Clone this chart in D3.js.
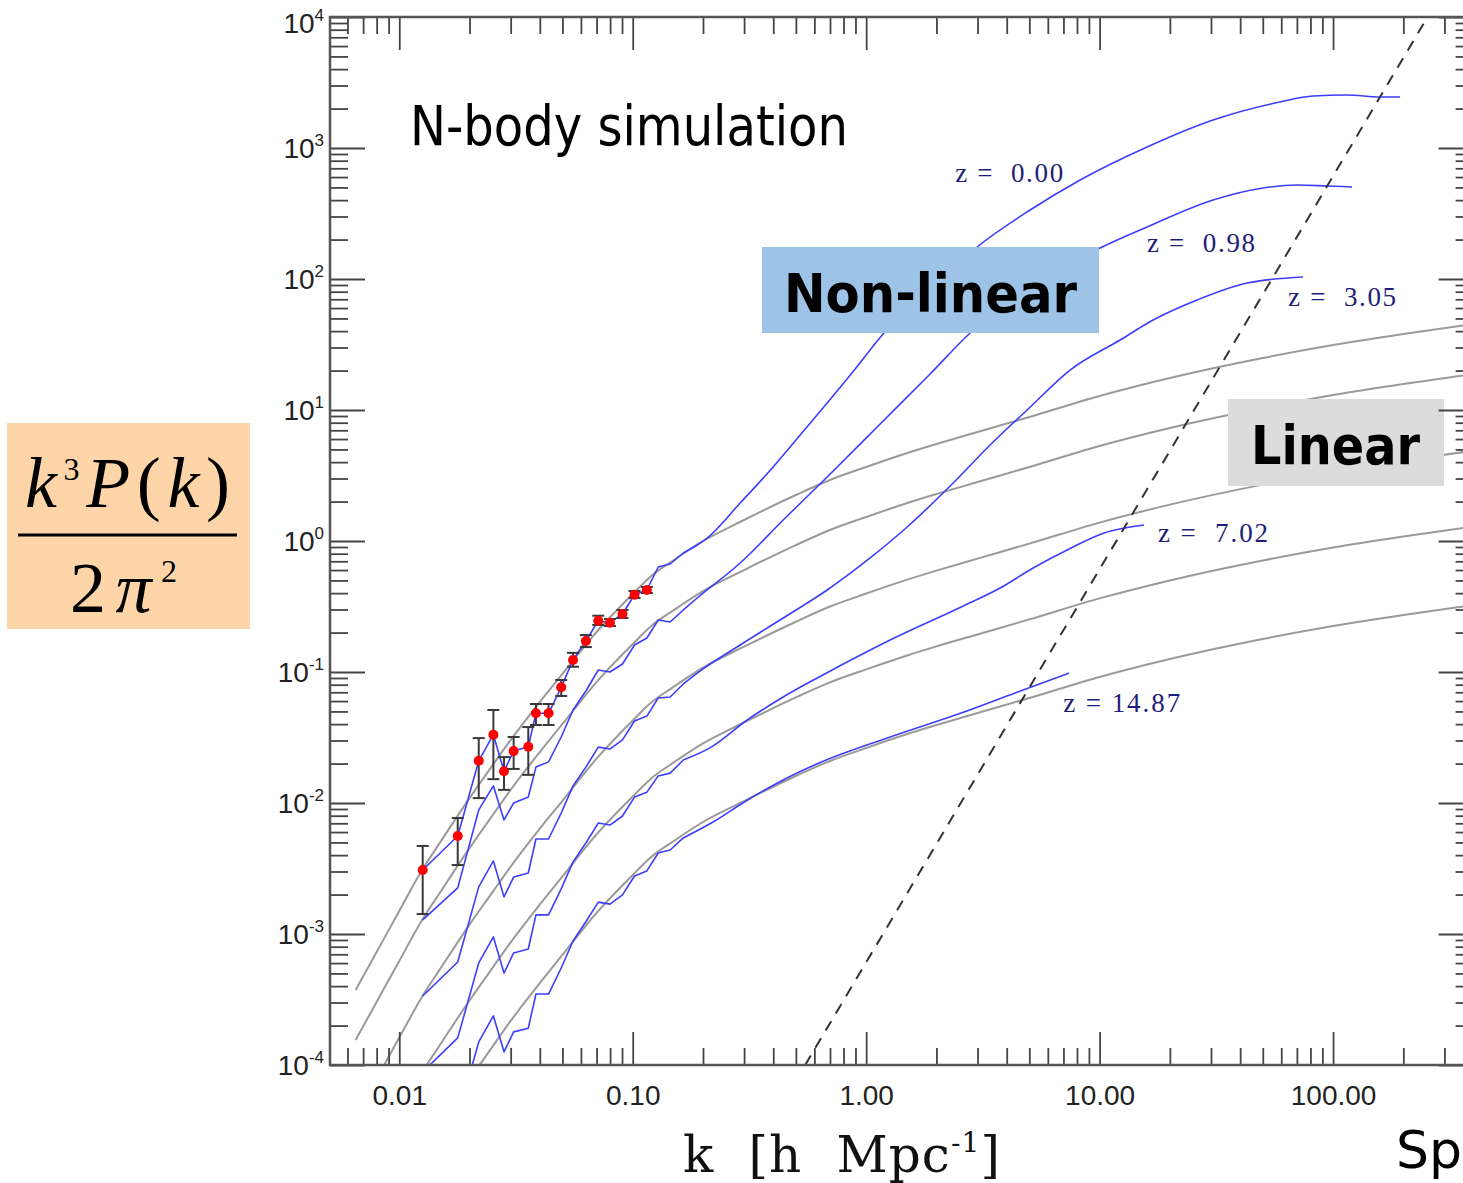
<!DOCTYPE html>
<html>
<head>
<meta charset="utf-8">
<script src="https://cdn.jsdelivr.net/npm/d3@7"></script>
<style>
  body { margin: 0; background: #ffffff; }
  svg text { white-space: pre; }
</style>
</head>
<body>
<div id="vis"></div>
<script>

// ---- espectro lineal (curvas grises), mismo k para las 5 curvas
const linK = [0.0065, 0.008, 0.01, 0.0126, 0.015, 0.02, 0.025, 0.03, 0.04, 0.05, 0.07, 0.1, 0.12, 0.15, 0.2, 0.3, 0.5, 0.7, 1, 1.5, 2, 3, 5, 10, 20, 50, 100, 200, 400];
const linZ000 = [3.74e-4, 7.29e-4, 1.50e-3, 3.13e-3, 5.04e-3, 1.09e-2, 1.92e-2, 3.03e-2, 5.90e-2, 9.66e-2, 0.202, 0.394, 0.541, 0.716, 1.00, 1.446, 2.244, 2.924, 3.673, 4.695, 5.500, 6.793, 8.844, 12.80, 17.55, 24.94, 31.34, 38.05, 45.33];
const linZ098 = [1.55e-4, 3.03e-4, 6.23e-4, 1.30e-3, 2.09e-3, 4.52e-3, 7.97e-3, 1.26e-2, 2.45e-2, 4.01e-2, 8.38e-2, 0.1635, 0.2245, 0.2971, 0.415, 0.600, 0.931, 1.213, 1.524, 1.948, 2.283, 2.819, 3.670, 5.312, 7.283, 10.35, 13.01, 15.79, 18.81];
const linZ305 = [4.04e-5, 7.87e-5, 1.62e-4, 3.38e-4, 5.44e-4, 1.18e-3, 2.07e-3, 3.27e-3, 6.37e-3, 1.04e-2, 2.18e-2, 4.26e-2, 5.84e-2, 7.73e-2, 0.108, 0.156, 0.242, 0.316, 0.397, 0.507, 0.594, 0.734, 0.955, 1.382, 1.895, 2.694, 3.385, 4.109, 4.896];
const linZ702 = [1.07e-5, 2.08e-5, 4.28e-5, 8.92e-5, 1.44e-4, 3.11e-4, 5.47e-4, 8.64e-4, 1.68e-3, 2.75e-3, 5.76e-3, 1.12e-2, 1.54e-2, 2.04e-2, 2.85e-2, 4.12e-2, 6.40e-2, 8.33e-2, 0.1047, 0.1338, 0.1568, 0.1936, 0.2521, 0.3648, 0.5002, 0.7108, 0.8932, 1.084, 1.292];
const linZ1487 = [2.68e-6, 5.22e-6, 1.07e-5, 2.24e-5, 3.61e-5, 7.80e-5, 1.37e-4, 2.17e-4, 4.22e-4, 6.92e-4, 1.45e-3, 2.82e-3, 3.87e-3, 5.13e-3, 7.16e-3, 1.035e-2, 1.607e-2, 2.094e-2, 2.630e-2, 3.362e-2, 3.938e-2, 4.864e-2, 6.332e-2, 9.165e-2, 0.1257, 0.1786, 0.2244, 0.2724, 0.3246];

// ---- N-body (curvas azules)
const nbK000 = [0.0126, 0.0178, 0.0219, 0.0253, 0.0281, 0.0309, 0.0357, 0.0385, 0.0436, 0.0494, 0.0555, 0.0630, 0.0712, 0.0799, 0.0904, 0.1018, 0.1150, 0.1286, 0.1447, 0.1646, 0.1889, 0.2085, 0.2886, 0.3996, 0.5217, 0.6807, 0.8973, 1.182, 1.879, 2.988, 5.040, 8.253, 15.97, 30.63, 59.29, 82.10, 114.8, 158.9, 193.7];
const nbP000 = [3.08e-3, 5.60e-3, 2.10e-2, 3.32e-2, 1.75e-2, 2.49e-2, 2.69e-2, 4.84e-2, 4.84e-2, 7.64e-2, 0.1235, 0.1724, 0.2463, 0.2378, 0.2772, 0.3891, 0.4226, 0.6331, 0.6676, 0.8099, 0.9322, 1.054, 1.950, 3.672, 6.45, 11.31, 20.56, 38.02, 82.41, 175.5, 336.3, 569.8, 1018, 1636, 2245, 2494, 2538, 2451, 2451];

const nbK098 = [0.0126, 0.0178, 0.0219, 0.0253, 0.0281, 0.0309, 0.0357, 0.0385, 0.0436, 0.0494, 0.0555, 0.0630, 0.0712, 0.0799, 0.0904, 0.1018, 0.1150, 0.1286, 0.1447, 0.1646, 0.1889, 0.2886, 0.4411, 0.6807, 1.148, 1.879, 2.789, 5.040, 10.05, 15.97, 30.63, 50.13, 70.13, 94.26, 120.6];
const nbP098 = [1.28e-3, 2.25e-3, 8.85e-3, 1.35e-2, 7.42e-3, 1.00e-2, 1.11e-2, 1.88e-2, 2.06e-2, 3.19e-2, 5.13e-2, 7.16e-2, 0.1036, 0.1000, 0.1151, 0.1607, 0.1818, 0.2494, 0.2409, 0.2974, 0.3672, 0.6794, 1.446, 3.080, 7.818, 18.83, 38.70, 85.38, 172.5, 249.6, 401.1, 495.3, 522.4, 513.2, 504.1];

const nbK305 = [0.0126, 0.0178, 0.0219, 0.0253, 0.0281, 0.0309, 0.0357, 0.0385, 0.0436, 0.0494, 0.0555, 0.0630, 0.0712, 0.0799, 0.0904, 0.1018, 0.1150, 0.1286, 0.1447, 0.1646, 0.1889, 0.2886, 0.4411, 0.6807, 1.040, 1.498, 2.359, 3.396, 4.892, 7.476, 12.24, 16.95, 26.16, 42.82, 74.37];
const nbP305 = [3.36e-4, 6.11e-4, 2.29e-3, 3.61e-3, 1.92e-3, 2.72e-3, 2.92e-3, 5.31e-3, 5.31e-3, 8.39e-3, 1.35e-2, 1.88e-2, 2.67e-2, 2.58e-2, 3.03e-2, 4.23e-2, 4.61e-2, 6.33e-2, 6.45e-2, 8.10e-2, 9.82e-2, 0.1607, 0.2583, 0.4226, 0.7420, 1.279, 2.772, 5.404, 10.00, 20.19, 34.22, 48.64, 69.18, 93.2, 103.6];

const nbK702 = [0.0126, 0.0178, 0.0219, 0.0253, 0.0281, 0.0309, 0.0357, 0.0385, 0.0436, 0.0494, 0.0555, 0.0630, 0.0712, 0.0799, 0.0904, 0.1018, 0.1150, 0.1286, 0.1447, 0.1646, 0.2169, 0.3093, 0.4411, 0.6288, 1.267, 2.553, 3.749, 5.190, 7.402, 10.45, 15.51];
const nbP702 = [8.85e-5, 1.61e-4, 6.01e-4, 9.49e-4, 5.04e-4, 7.16e-4, 7.68e-4, 1.40e-3, 1.40e-3, 2.21e-3, 3.55e-3, 4.95e-3, 7.03e-3, 6.79e-3, 7.96e-3, 1.11e-2, 1.21e-2, 1.61e-2, 1.69e-2, 2.13e-2, 2.67e-2, 4.30e-2, 6.45e-2, 9.16e-2, 0.1755, 0.3133, 0.4375, 0.622, 0.869, 1.151, 1.325];

const nbK1487 = [0.0126, 0.0178, 0.0219, 0.0253, 0.0281, 0.0309, 0.0357, 0.0385, 0.0436, 0.0494, 0.0555, 0.0630, 0.0712, 0.0799, 0.0904, 0.1018, 0.1150, 0.1286, 0.1447, 0.1646, 0.2169, 0.3093, 0.4411, 0.6288, 1.267, 2.553, 4.346, 7.402];
const nbP1487 = [2.21e-5, 4.01e-5, 1.50e-4, 2.37e-4, 1.26e-4, 1.79e-4, 1.91e-4, 3.48e-4, 3.48e-4, 5.50e-4, 8.85e-4, 1.24e-3, 1.75e-3, 1.69e-3, 1.99e-3, 2.77e-3, 3.03e-3, 4.15e-3, 4.38e-3, 5.41e-3, 7.03e-3, 1.05e-2, 1.50e-2, 2.02e-2, 3.19e-2, 4.86e-2, 6.92e-2, 9.82e-2];

// ---- puntos observados (rojos) con barras de error
const dataK  = [0.0126, 0.0178, 0.0219, 0.0253, 0.0281, 0.0309, 0.0357, 0.0385, 0.0436, 0.0494, 0.0555, 0.0630, 0.0712, 0.0799, 0.0904, 0.1018, 0.1150];
const dataP  = [3.08e-3, 5.60e-3, 2.10e-2, 3.32e-2, 1.75e-2, 2.49e-2, 2.69e-2, 4.84e-2, 4.84e-2, 7.64e-2, 0.1235, 0.1724, 0.2463, 0.2378, 0.2772, 0.3891, 0.4226];
const dataHi = [4.70e-3, 7.68e-3, 3.13e-2, 5.13e-2, 2.24e-2, 3.19e-2, 3.80e-2, 5.70e-2, 5.70e-2, 8.69e-2, 0.140, 0.1915, 0.269, 0.254, 0.2974, 0.4153, 0.4457];
const dataLo = [1.42e-3, 3.36e-3, 1.09e-2, 1.52e-2, 1.26e-2, 1.82e-2, 1.64e-2, 3.94e-2, 3.94e-2, 6.56e-2, 0.1097, 0.155, 0.2285, 0.2244, 0.2583, 0.3672, 0.4010];

// ---- linea de shot noise (segmentada)
const dashK = [0.548, 254];
const dashP = [1e-4, 1e4];

// ---- etiquetas de redshift (anclas en coordenadas de datos)
const zText = ["z =  0.00", "z =  0.98", "z =  3.05", "z =  7.02", "z = 14.87"];
const zAtK  = [2.405, 15.97, 64.2, 17.8, 6.98];
const zAtP  = [550, 160.7, 62.2, 0.982, 0.0495];

// ---- ticks
const xMajor = [0.01, 0.1, 1, 10, 100];
const xMajorText = ["0.01", "0.10", "1.00", "10.00", "100.00"];
const yExp = [-4, -3, -2, -1, 0, 1, 2, 3, 4];


function createVis(rute) {

  const SVG = d3.select(rute)
    .append("svg")
    .attr("width", 1463)
    .attr("height", 1183);

  const escalaX = d3.scaleLog().domain([0.00505, 400]).range([330, 1473.6]);
  const escalaY = d3.scaleLog().domain([1e-4, 1e4]).range([1065, 17]);

  SVG.append("defs").append("clipPath").attr("id", "plotClip")
    .append("rect")
      .attr("x", 330).attr("y", 17)
      .attr("width", 1143.6).attr("height", 1048);

  const lineaSuave = d3.line()
    .x(d => escalaX(d[0]))
    .y(d => escalaY(d[1]))
    .curve(d3.curveMonotoneX);
  const linea = d3.line()
    .x(d => escalaX(d[0]))
    .y(d => escalaY(d[1]));

  const plot = SVG.append("g").attr("clip-path", "url(#plotClip)");

  // curvas lineales
  [linZ000, linZ098, linZ305, linZ702, linZ1487].forEach(v => {
    plot.append("path")
      .datum(d3.zip(linK, v))
      .attr("d", lineaSuave)
      .attr("fill", "none")
      .attr("stroke", "#9a9a9a")
      .attr("stroke-width", 2);
  });

  // curvas N-body: tramo ruidoso con quiebres, despues suave
  const quiebre = 19;
  [[nbK000, nbP000], [nbK098, nbP098], [nbK305, nbP305], [nbK702, nbP702], [nbK1487, nbP1487]].forEach(([k, p]) => {
    const pts = d3.zip(k, p);
    const d = linea(pts.slice(0, quiebre + 1)) + lineaSuave(pts.slice(quiebre)).replace(/^M/, "L");
    plot.append("path")
      .attr("d", d)
      .attr("fill", "none")
      .attr("stroke", "#3d3dff")
      .attr("stroke-width", 1.6)
      .attr("stroke-linejoin", "round");
  });

  // shot noise
  plot.append("path")
    .datum(d3.zip(dashK, dashP))
    .attr("d", linea)
    .attr("fill", "none")
    .attr("stroke", "#333")
    .attr("stroke-width", 2)
    .attr("stroke-dasharray", "11,9");

  // barras de error + puntos
  const puntos = plot.selectAll("g.punto")
    .data(d3.range(dataK.length))
    .join("g")
    .attr("class", "punto");

  const cap = 6;
  puntos.append("line")
    .attr("x1", i => escalaX(dataK[i])).attr("x2", i => escalaX(dataK[i]))
    .attr("y1", i => escalaY(dataHi[i])).attr("y2", i => escalaY(dataLo[i]));
  puntos.append("line")
    .attr("x1", i => escalaX(dataK[i]) - cap).attr("x2", i => escalaX(dataK[i]) + cap)
    .attr("y1", i => escalaY(dataHi[i])).attr("y2", i => escalaY(dataHi[i]));
  puntos.append("line")
    .attr("x1", i => escalaX(dataK[i]) - cap).attr("x2", i => escalaX(dataK[i]) + cap)
    .attr("y1", i => escalaY(dataLo[i])).attr("y2", i => escalaY(dataLo[i]));
  puntos.selectAll("line").attr("stroke", "#3a3a3a").attr("stroke-width", 2);

  puntos.append("circle")
    .attr("cx", i => escalaX(dataK[i]))
    .attr("cy", i => escalaY(dataP[i]))
    .attr("r", 5)
    .attr("fill", "#ff0000");

  // etiquetas z
  const zWidth = [108, 108, 108, 110, 117];
  SVG.selectAll("text.zlab")
    .data(zText)
    .join("text")
    .attr("class", "zlab")
    .attr("x", (_, i) => escalaX(zAtK[i]))
    .attr("y", (_, i) => escalaY(zAtP[i]))
    .attr("font-family", "Liberation Serif, Times New Roman, serif")
    .attr("font-size", 27)
    .attr("fill", "#1e1e7a")
    .attr("textLength", (_, i) => zWidth[i])
    .attr("lengthAdjust", "spacing")
    .text(d => d);

  // cajas
  SVG.append("rect").attr("x", 762).attr("y", 247).attr("width", 337).attr("height", 86).attr("fill", "#9dc3e6");
  SVG.append("text")
    .attr("x", 784).attr("y", 312)
    .attr("font-family", "DejaVu Sans, Verdana, sans-serif")
    .attr("font-weight", "bold")
    .attr("font-size", 54)
    .attr("textLength", 293).attr("lengthAdjust", "spacingAndGlyphs")
    .text("Non-linear");

  SVG.append("rect").attr("x", 1228).attr("y", 399).attr("width", 216).attr("height", 87).attr("fill", "#dcdcdc");
  SVG.append("text")
    .attr("x", 1251).attr("y", 464)
    .attr("font-family", "DejaVu Sans, Verdana, sans-serif")
    .attr("font-weight", "bold")
    .attr("font-size", 54)
    .attr("textLength", 169).attr("lengthAdjust", "spacingAndGlyphs")
    .text("Linear");

  SVG.append("text")
    .attr("x", 410).attr("y", 145)
    .attr("font-family", "DejaVu Sans, Verdana, sans-serif")
    .attr("font-size", 55)
    .attr("textLength", 438).attr("lengthAdjust", "spacingAndGlyphs")
    .text("N-body simulation");

  // ejes
  const ejes = SVG.append("g");
  function dibujarEje(axis, transform) {
    const g = ejes.append("g").attr("transform", transform).call(axis);
    g.select(".domain").remove();
    g.selectAll(".tick line").attr("stroke", "#444").attr("stroke-width", 1.8);
    g.attr("font-family", "Liberation Sans, Arial, sans-serif").attr("font-size", 28);
    g.selectAll(".tick text").attr("fill", "#222");
    return g;
  }
  const esPotencia = d => Math.abs(Math.log10(d) - Math.round(Math.log10(d))) < 1e-6;
  const xMinor = escalaX.ticks().filter(d => !esPotencia(d));
  const yMinor = escalaY.ticks().filter(d => !esPotencia(d));
  const yMajor = yExp.map(e => Math.pow(10, e));

  dibujarEje(d3.axisBottom(escalaX).tickValues(xMajor).tickSize(-33).tickPadding(20)
    .tickFormat((d, i) => xMajorText[i]), "translate(0,1065)");
  dibujarEje(d3.axisBottom(escalaX).tickValues(xMinor).tickSize(-17).tickFormat(""), "translate(0,1065)");
  dibujarEje(d3.axisTop(escalaX).tickValues(xMajor).tickSize(-33).tickFormat(""), "translate(0,17)");
  dibujarEje(d3.axisTop(escalaX).tickValues(xMinor).tickSize(-17).tickFormat(""), "translate(0,17)");
  dibujarEje(d3.axisLeft(escalaY).tickValues(yMajor).tickSize(-35).tickFormat(""), "translate(330,0)");
  dibujarEje(d3.axisLeft(escalaY).tickValues(yMinor).tickSize(-18).tickFormat(""), "translate(330,0)");
  dibujarEje(d3.axisRight(escalaY).tickValues(yMajor).tickSize(-35).tickFormat(""), "translate(1473.6,0)");
  dibujarEje(d3.axisRight(escalaY).tickValues(yMinor).tickSize(-18).tickFormat(""), "translate(1473.6,0)");

  ejes.append("rect")
    .attr("x", 330).attr("y", 17)
    .attr("width", 1143.6).attr("height", 1048)
    .attr("fill", "none")
    .attr("stroke", "#555")
    .attr("stroke-width", 2.5);

  // etiquetas eje y: 10^n
  const yLab = ejes.selectAll("text.ylab")
    .data(yExp)
    .join("text")
    .attr("class", "ylab")
    .attr("x", 324)
    .attr("y", e => Math.max(escalaY(Math.pow(10, e)) + 10, 33))
    .attr("text-anchor", "end")
    .attr("font-family", "Liberation Sans, Arial, sans-serif")
    .attr("fill", "#222");
  yLab.append("tspan").attr("font-size", 28).text("10");
  yLab.append("tspan").attr("font-size", 17).attr("dy", -12).text(e => String(e));

  // titulo eje x
  const xt = SVG.append("text")
    .attr("x", 683).attr("y", 1172)
    .attr("font-family", "DejaVu Serif, Liberation Serif, serif")
    .attr("font-size", 50)
    .attr("fill", "#111")
    .attr("textLength", 317).attr("lengthAdjust", "spacing");
  xt.append("tspan").text("k  [h  Mpc");
  xt.append("tspan").attr("font-size", 28).attr("dy", -20).text("-1");
  xt.append("tspan").attr("dy", 20).text("]");

  // texto que en el original queda en el borde derecho
  SVG.append("text")
    .attr("x", 1396).attr("y", 1168)
    .attr("font-family", "DejaVu Sans, Verdana, sans-serif")
    .attr("font-size", 52)
    .text("Sp");

  // caja etiqueta eje y
  SVG.append("rect").attr("x", 7).attr("y", 423).attr("width", 243).attr("height", 206).attr("fill", "#fdd5a8");
  const num = SVG.append("text")
    .attr("x", 25).attr("y", 507)
    .attr("font-family", "Liberation Serif, Times New Roman, serif")
    .attr("font-size", 72)
    .attr("textLength", 205).attr("lengthAdjust", "spacing");
  num.append("tspan").attr("font-style", "italic").text("k");
  num.append("tspan").attr("font-size", 32).attr("dy", -27).text("3");
  num.append("tspan").attr("font-style", "italic").attr("dy", 27).text("P");
  num.append("tspan").text("(");
  num.append("tspan").attr("font-style", "italic").text("k");
  num.append("tspan").text(")");

  SVG.append("line").attr("x1", 18).attr("x2", 237).attr("y1", 535).attr("y2", 535)
    .attr("stroke", "#000").attr("stroke-width", 3);

  const den = SVG.append("text")
    .attr("x", 70).attr("y", 612)
    .attr("font-family", "Liberation Serif, Times New Roman, serif")
    .attr("font-size", 72)
    .attr("textLength", 107).attr("lengthAdjust", "spacing");
  den.append("tspan").text("2");
  den.append("tspan").attr("font-style", "italic").text("\u03c0");
  den.append("tspan").attr("font-size", 32).attr("dy", -30).text("2");
}

createVis("#vis");

</script>
</body>
</html>
